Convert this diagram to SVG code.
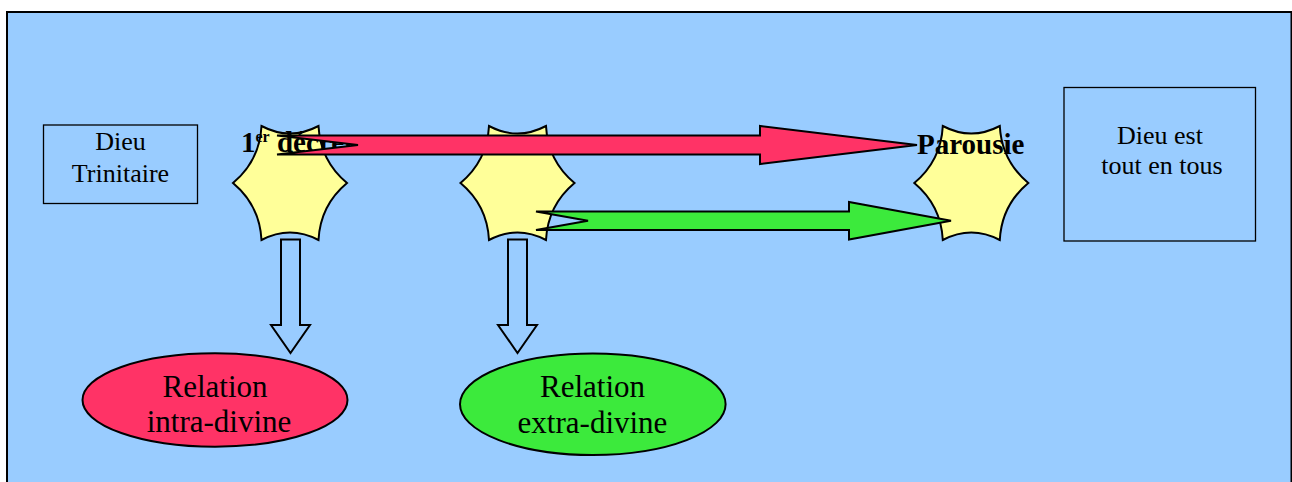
<svg xmlns="http://www.w3.org/2000/svg" width="1292" height="482" viewBox="0 0 1292 482">
  <style>
    .txt { font-family: "Liberation Serif", "Times New Roman", serif; fill: #000; }
    .box { fill: #99CCFF; stroke: #000; stroke-width: 1.3; }
    .star { fill: #FFFF99; stroke: #000; stroke-width: 2; stroke-linejoin: miter; }
    .bold { font-weight: bold; font-size: 29px; }
    .hollow { fill: #99CCFF; stroke: #000; stroke-width: 2; stroke-linejoin: miter; }
    .big { font-size: 31px; }
    .mid { font-size: 26px; }
  </style>
  <defs>
    <!-- six-point concave star, centred on the origin -->
    <path id="star6" d="M-28.5,-57 Q0,-42 28.5,-57 Q30.3,-22.3 57,0 Q30.3,22.3 28.5,57 Q0,42 -28.5,57 Q-30.3,22.3 -57,0 Q-30.3,-22.3 -28.5,-57 Z"/>
  </defs>

  <!-- slide background -->
  <rect x="7" y="12" width="1284.5" height="480" fill="#99CCFF" stroke="#000" stroke-width="2"/>

  <g id="dieu-trinitaire">
    <rect class="box" x="43.5" y="125" width="154" height="78.5"/>
    <text class="txt mid" x="120.5" y="150" text-anchor="middle">Dieu</text>
    <text class="txt mid" x="120.5" y="182" text-anchor="middle">Trinitaire</text>
  </g>

  <g id="dieu-tout-en-tous">
    <rect class="box" x="1064" y="87.5" width="191.5" height="153.5"/>
    <text class="txt mid" x="1160" y="143.5" text-anchor="middle">Dieu est</text>
    <text class="txt mid" x="1162" y="173.5" text-anchor="middle">tout en tous</text>
  </g>

  <g id="premier-decret">
    <use href="#star6" class="star" transform="translate(290,183)"/>
    <text class="txt bold" x="241" y="152">1<tspan font-size="16" dy="-10">er</tspan><tspan dy="10"> décret</tspan></text>
  </g>

  <g id="second-star">
    <use href="#star6" class="star" transform="translate(517.5,183)"/>
  </g>

  <g id="parousie">
    <use href="#star6" class="star" transform="translate(971.3,183)"/>
  </g>

  <g id="connectors">
    <!-- notched block arrows -->
    <path d="M277,135.5 L760,135.5 L760,126 L917,145 L760,164 L760,154.5 L277,154.5 L358,145 Z" fill="#FF3366" stroke="#000" stroke-width="2" stroke-linejoin="miter"/>
    <path d="M536,211.5 L849,211.5 L849,202 L951,220.7 L849,239.5 L849,230 L536,230 L588,220.7 Z" fill="#3CEA3C" stroke="#000" stroke-width="2" stroke-linejoin="miter"/>
    <!-- hollow down arrows -->
    <path class="hollow" d="M281,239.5 L300,239.5 L300,325 L310,325 L290.5,353 L271,325 L281,325 Z"/>
    <path class="hollow" d="M508,239.5 L527,239.5 L527,325 L537,325 L517.5,353 L498,325 L508,325 Z"/>
  </g>

  <g id="parousie-label">
    <text class="txt bold" x="917" y="154">Parousie</text>
  </g>

  <g id="relation-intra">
    <ellipse cx="215" cy="400" rx="132.5" ry="46.7" fill="#FF3366" stroke="#000" stroke-width="2"/>
    <text class="txt big" x="215" y="397" text-anchor="middle">Relation</text>
    <text class="txt big" x="219" y="432" text-anchor="middle">intra-divine</text>
  </g>

  <g id="relation-extra">
    <ellipse cx="592.8" cy="404.2" rx="132.8" ry="50.8" fill="#3CEA3C" stroke="#000" stroke-width="2"/>
    <text class="txt big" x="592.5" y="397" text-anchor="middle">Relation</text>
    <text class="txt big" x="592.5" y="432.5" text-anchor="middle">extra-divine</text>
  </g>
</svg>
